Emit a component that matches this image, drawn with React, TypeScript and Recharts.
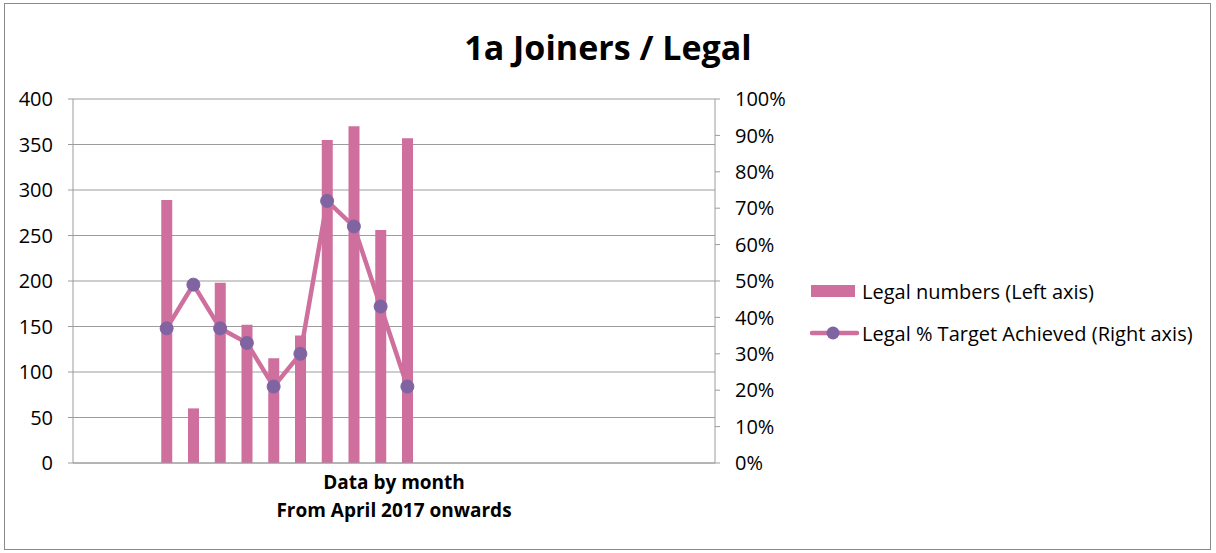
import React from "react";
import {
  Bar,
  CartesianGrid,
  ComposedChart,
  Legend,
  Line,
  XAxis,
  YAxis,
} from "recharts";

// months on the category axis, Jan 2017 .. Dec 2018 (axis labels hidden)
const MONTHS = [
  "Jan 17", "Feb 17", "Mar 17", "Apr 17", "May 17", "Jun 17",
  "Jul 17", "Aug 17", "Sep 17", "Oct 17", "Nov 17", "Dec 17",
  "Jan 18", "Feb 18", "Mar 18", "Apr 18", "May 18", "Jun 18",
  "Jul 18", "Aug 18", "Sep 18", "Oct 18", "Nov 18", "Dec 18",
];

const LEGAL_NUMBERS = [
  null, null, null, 289, 60, 198, 152, 115, 140, 355, 370, 256, 357,
  null, null, null, null, null, null, null, null, null, null, null,
];

const LEGAL_PCT = [
  null, null, null, 0.37, 0.49, 0.37, 0.33, 0.21, 0.3, 0.72, 0.65, 0.43,
  0.21, null, null, null, null, null, null, null, null, null, null, null,
];

const LEFT_TICKS = [0, 50, 100, 150, 200, 250, 300, 350, 400];
const RIGHT_TICKS = [0, 0.1, 0.2, 0.3, 0.4, 0.5, 0.6, 0.7, 0.8, 0.9, 1];

const PINK = "#CE6F9E";
const PURPLE = "#8064A2";
const GRID = "#9C9C9C";
const FONT = "'Open Sans', sans-serif";

const data = MONTHS.map((m, i) => ({
  month: m,
  legal: LEGAL_NUMBERS[i],
  pct: LEGAL_PCT[i],
}));

function LegendBox(props: any) {
  const { payload = [] } = props;
  // bar entry first, like the original
  const items = [...payload].sort(
    (a: any, b: any) => (a.type === "line" ? 1 : 0) - (b.type === "line" ? 1 : 0)
  );
  return (
    <div style={{ fontFamily: FONT, fontSize: 20, color: "#000" }}>
      {items.map((entry: any, idx: number) => (
        <div
          key={idx}
          style={{ display: "flex", alignItems: "center", height: 28, marginBottom: 14 }}
        >
          <svg width={50} height={16} style={{ marginRight: 2 }}>
            {entry.type === "line" ? (
              <>
                <line x1={2} y1={8} x2={47} y2={8} stroke={PINK} strokeWidth={4.5} strokeLinecap="round" />
                <circle cx={23} cy={8} r={6.5} fill={PURPLE} />
              </>
            ) : (
              <rect x={1} y={2} width={44} height={12} fill={PINK} />
            )}
          </svg>
          <span>{entry.value}</span>
        </div>
      ))}
    </div>
  );
}

function AxisTitle(props: any) {
  const { viewBox } = props;
  const cx = viewBox.x + viewBox.width / 2;
  return (
    <text
      x={cx}
      y={viewBox.y + 26}
      textAnchor="middle"
      fontFamily={FONT}
      fontSize={19}
      fontWeight="bold"
      fill="#000"
    >
      <tspan x={cx}>Data by month</tspan>
      <tspan x={cx} dy={28}>From April 2017 onwards</tspan>
    </text>
  );
}

export default function App() {
  return (
    <div
      style={{
        position: "absolute",
        left: 0,
        top: 0,
        width: 1216,
        height: 553,
        background: "#fff",
      }}
    >
      <div
        style={{
          position: "absolute",
          left: 4,
          top: 3,
          width: 1205,
          height: 545,
          border: "1px solid #8a8a8a",
        }}
      />
      <div
        style={{
          position: "absolute",
          left: 0,
          top: 24,
          width: 1216,
          textAlign: "center",
          fontFamily: FONT,
          fontWeight: "bold",
          fontSize: 34,
          color: "#000",
        }}
      >
        1a Joiners / Legal
      </div>
      <ComposedChart
        width={1216}
        height={553}
        data={data}
        margin={{ top: 99, right: 0, bottom: 30, left: 0 }}
        style={{ position: "absolute", left: 0, top: 0 }}
      >
        <CartesianGrid vertical={false} stroke={GRID} yAxisId="left" />
        <XAxis
          dataKey="month"
          tick={false}
          tickLine={false}
          axisLine={{ stroke: GRID }}
          height={60}
          label={<AxisTitle />}
        />
        <YAxis
          yAxisId="left"
          width={73}
          domain={[0, 400]}
          ticks={LEFT_TICKS}
          interval={0}
          tickSize={5}
          tickMargin={15}
          axisLine={{ stroke: GRID }}
          tickLine={{ stroke: GRID }}
          tick={{ fill: "#000", fontSize: 20, fontFamily: FONT }}
        />
        <YAxis
          yAxisId="right"
          orientation="right"
          width={501}
          domain={[0, 1]}
          ticks={RIGHT_TICKS}
          interval={0}
          tickSize={5}
          tickMargin={15}
          tickFormatter={(v: number) => `${Math.round(v * 100)}%`}
          axisLine={{ stroke: GRID }}
          tickLine={{ stroke: GRID }}
          tick={{ fill: "#000", fontSize: 20, fontFamily: FONT, textAnchor: "start" }}
        />
        <Bar
          yAxisId="left"
          dataKey="legal"
          name="Legal numbers (Left axis)"
          fill={PINK}
          barSize={11}
          isAnimationActive={false}
        />
        <Line
          yAxisId="right"
          dataKey="pct"
          name="Legal % Target Achieved (Right axis)"
          stroke={PINK}
          strokeWidth={4.5}
          dot={{ r: 6.5, fill: PURPLE, stroke: PURPLE, strokeWidth: 1 }}
          isAnimationActive={false}
        />
        <Legend
          layout="vertical"
          align="center"
          verticalAlign="middle"
          content={<LegendBox />}
          wrapperStyle={{ left: 810, top: 277, width: 400 }}
        />
      </ComposedChart>
    </div>
  );
}
